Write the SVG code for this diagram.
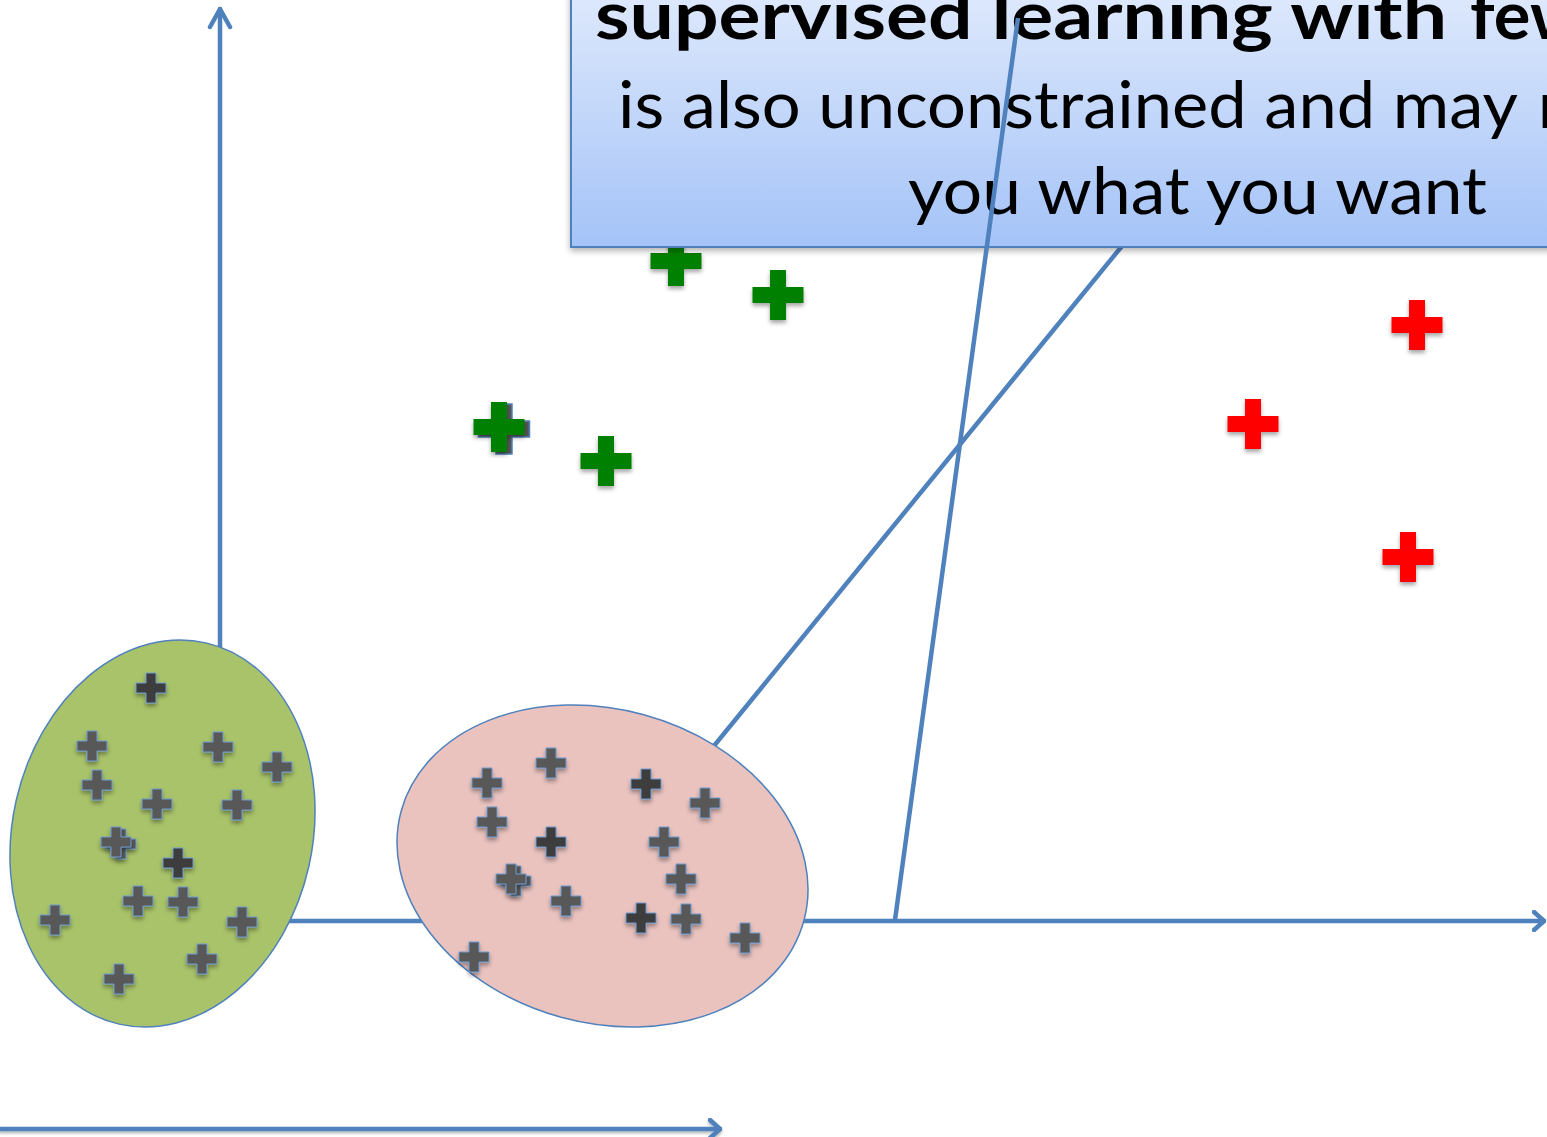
<svg xmlns="http://www.w3.org/2000/svg" xmlns:xlink="http://www.w3.org/1999/xlink" width="1547" height="1137" viewBox="0 0 1547 1137">
  <style>
    .axis { stroke: #4f81bd; stroke-width: 4.5; fill: none; stroke-linecap: round; stroke-linejoin: round; }
    .link { stroke: #4f81bd; stroke-width: 4.5; fill: none; }
    .big-green { fill: #008000; filter: url(#soft); }
    .big-red { fill: #ff0000; filter: url(#soft); }
    .pt { fill: #595959; stroke: #6f9bd0; stroke-width: 1; filter: url(#soft); }
    .pt-dark { fill: #3c3c3c; stroke: #6f9bd0; stroke-width: 1; filter: url(#soft); }
    .blob { stroke: #4f81bd; stroke-width: 1.5; }
    .caption { font-family: Lato, "Liberation Sans", sans-serif; font-size: 66px; fill: #000; }
    .caption-b { font-family: Lato, "Liberation Sans", sans-serif; font-size: 66px; font-weight: bold; fill: #000; }
  </style>
  <defs>
    <filter id="soft" x="-40%" y="-40%" width="180%" height="190%">
      <feDropShadow dx="0" dy="3" stdDeviation="2" flood-color="#000" flood-opacity="0.35"/>
    </filter>
    <filter id="boxshadow" x="-5%" y="-10%" width="110%" height="125%">
      <feDropShadow dx="0" dy="3" stdDeviation="3" flood-color="#000" flood-opacity="0.3"/>
    </filter>
    <filter id="lineshadow" filterUnits="userSpaceOnUse" x="-10" y="1110" width="760" height="40">
      <feDropShadow dx="0" dy="2" stdDeviation="1.5" flood-color="#000" flood-opacity="0.3"/>
    </filter>
    <linearGradient id="boxfill" x1="0" y1="0" x2="0" y2="1">
      <stop offset="0" stop-color="#e3ecfd"/>
      <stop offset="1" stop-color="#a4c3f7"/>
    </linearGradient>
    <marker id="chev" viewBox="0 0 14 22" refX="12" refY="11" markerWidth="14" markerHeight="22" markerUnits="userSpaceOnUse" orient="auto">
      <path d="M2,2 L12,11 L2,20" fill="none" stroke="#4f81bd" stroke-width="4.5" stroke-linecap="round" stroke-linejoin="round"/>
    </marker>
    <marker id="chev-up" viewBox="0 0 26 24" refX="13" refY="3" markerWidth="26" markerHeight="24" markerUnits="userSpaceOnUse" orient="0">
      <path d="M3,21 L13,3 L23,21" fill="none" stroke="#4f81bd" stroke-width="4.5" stroke-linecap="round" stroke-linejoin="round"/>
    </marker>
    <!-- large plus sign, 51px wide, 16px bars -->
    <path id="plus-lg" d="M-8,-25 h16 v17 h17.5 v16 h-17.5 v17 h-16 v-17 h-17.5 v-16 h17.5 z"/>
    <!-- small plus sign, 30px wide, 10px bars -->
    <path id="plus-sm" d="M-5,-15 h10 v10 h10 v10 h-10 v10 h-10 v-10 h-10 v-10 h10 z"/>
  </defs>

  <rect width="1547" height="1137" fill="#ffffff"/>

  <!-- coordinate axes and the bottom arrow -->
  <g id="axes">
    <line class="axis" x1="220" y1="921" x2="220" y2="9" marker-end="url(#chev-up)"/>
    <line class="axis" x1="220" y1="921" x2="1544" y2="921" marker-end="url(#chev)"/>
    <g filter="url(#lineshadow)">
      <line class="axis" x1="0" y1="1129" x2="720" y2="1129" stroke-width="3.5" marker-end="url(#chev)"/>
    </g>
  </g>

  <!-- connectors: diagonal from the pink cluster to the callout -->
  <g id="connectors">
    <line class="link" x1="660" y1="812" x2="1122" y2="246"/>
  </g>

  <!-- green labelled points -->
  <g id="green-points">
    <use href="#plus-lg" class="big-green" x="676" y="261"/>
    <use href="#plus-lg" class="big-green" x="778" y="295"/>
    <use href="#plus-lg" x="504" y="429" fill="#555" stroke="#4f81bd" stroke-width="1.5"/>
    <use href="#plus-lg" class="big-green" x="499" y="427"/>
    <use href="#plus-lg" class="big-green" x="606" y="461"/>
  </g>

  <!-- red labelled points -->
  <g id="red-points">
    <use href="#plus-lg" class="big-red" x="1417" y="325"/>
    <use href="#plus-lg" class="big-red" x="1253" y="424"/>
    <use href="#plus-lg" class="big-red" x="1408" y="557"/>
  </g>

  <!-- callout box -->
  <g id="callout">
    <rect x="571" y="-30" width="1000" height="277" fill="url(#boxfill)" stroke="#4f81bd" stroke-width="2" filter="url(#boxshadow)"/>
    <text class="caption-b" x="595" y="39" textLength="852" lengthAdjust="spacingAndGlyphs">supervised learning with</text>
    <text class="caption-b" x="1470" y="39" textLength="115" lengthAdjust="spacingAndGlyphs">few</text>
    <text class="caption" x="618" y="128" textLength="900" lengthAdjust="spacingAndGlyphs">is also unconstrained and may</text>
    <text class="caption" x="1538" y="128">not</text>
    <text class="caption" x="908" y="214" textLength="579" lengthAdjust="spacingAndGlyphs">you what you want</text>
  </g>

  <!-- near-vertical connector drawn across the callout -->
  <g id="connector-steep">
    <line class="link" x1="895" y1="920" x2="1018" y2="18" stroke-width="4"/>
  </g>

  <!-- green cluster -->
  <g id="cluster-green">
    <ellipse class="blob" cx="162.5" cy="833.5" rx="150" ry="195.5" transform="rotate(12.8 162.5 833.5)" fill="#a9c36a"/>
    <use href="#plus-sm" class="pt-dark" x="151" y="688"/>
    <use href="#plus-sm" class="pt" x="92" y="746"/>
    <use href="#plus-sm" class="pt" x="218" y="747"/>
    <use href="#plus-sm" class="pt" x="277" y="767"/>
    <use href="#plus-sm" class="pt" x="97" y="785"/>
    <use href="#plus-sm" class="pt" x="157" y="804"/>
    <use href="#plus-sm" class="pt" x="237" y="805"/>
    <use href="#plus-sm" class="pt" x="121" y="844"/>
    <use href="#plus-sm" class="pt" x="116" y="842"/>
    <use href="#plus-sm" class="pt-dark" x="178" y="863"/>
    <use href="#plus-sm" class="pt" x="138" y="901"/>
    <use href="#plus-sm" class="pt" x="183" y="902"/>
    <use href="#plus-sm" class="pt" x="55" y="920"/>
    <use href="#plus-sm" class="pt" x="242" y="922"/>
    <use href="#plus-sm" class="pt" x="202" y="959"/>
    <use href="#plus-sm" class="pt" x="119" y="979"/>
  </g>

  <!-- pink cluster -->
  <g id="cluster-pink">
    <ellipse class="blob" cx="602.5" cy="866" rx="208.7" ry="156.8" transform="rotate(15.3 602.5 866)" fill="#eac3bf"/>
    <use href="#plus-sm" class="pt" x="487" y="783"/>
    <use href="#plus-sm" class="pt" x="551" y="763"/>
    <use href="#plus-sm" class="pt-dark" x="646" y="784"/>
    <use href="#plus-sm" class="pt" x="705" y="803"/>
    <use href="#plus-sm" class="pt" x="492" y="822"/>
    <use href="#plus-sm" class="pt-dark" x="551" y="842"/>
    <use href="#plus-sm" class="pt" x="664" y="842"/>
    <use href="#plus-sm" class="pt" x="516" y="881"/>
    <use href="#plus-sm" class="pt" x="511" y="879"/>
    <use href="#plus-sm" class="pt" x="681" y="879"/>
    <use href="#plus-sm" class="pt" x="566" y="901"/>
    <use href="#plus-sm" class="pt-dark" x="641" y="918"/>
    <use href="#plus-sm" class="pt" x="686" y="919"/>
    <use href="#plus-sm" class="pt" x="745" y="938"/>
    <use href="#plus-sm" class="pt" x="474" y="957"/>
  </g>
</svg>
